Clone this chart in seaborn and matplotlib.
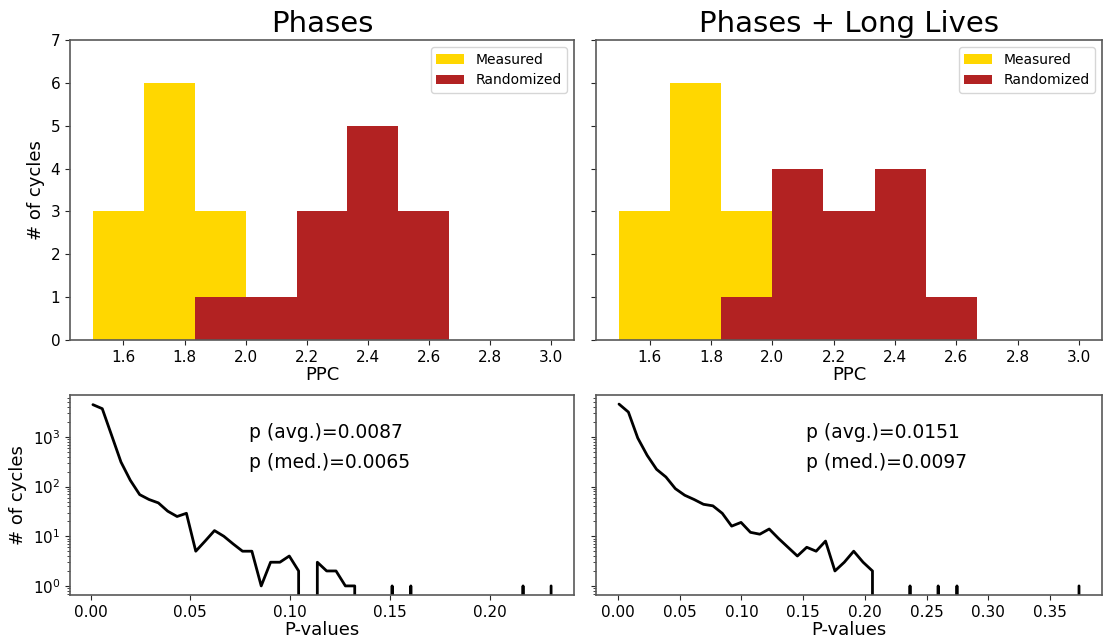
import numpy as np
import pandas as pd
import matplotlib
matplotlib.use("Agg")
import matplotlib.pyplot as plt
import seaborn as sns

# PPC histograms (counts per bin, bins from 1.5 to 3.0)
ppc_lo, ppc_hi, ppc_nbins = 1.5, 3.0, 9
measured_phases = [3, 6, 3, 0, 0, 0, 0, 0, 0]
randomized_phases = [0, 0, 1, 1, 3, 5, 3, 0, 0]
measured_long = [3, 6, 3, 0, 0, 0, 0, 0, 0]
randomized_long = [0, 0, 1, 4, 3, 4, 1, 0, 0]

# p-value histograms (50 bins, plotted at the left bin edges)
pv_range_phases = (0.0012, 0.2354)
pv_counts_phases = [4470, 3710, 1080, 313, 134, 69, 55, 47, 32, 25,
                    29, 5, 8, 13, 10, 7, 5, 5, 1, 3,
                    3, 4, 2, 0, 3, 2, 2, 1, 1, 0,
                    0, 0, 1, 0, 1, 0, 0, 0, 0, 0,
                    0, 0, 0, 0, 0, 0, 1, 0, 0, 1]
pv_range_long = (0.0008, 0.3810)
pv_counts_long = [4590, 3170, 950, 426, 223, 156, 91, 67, 55, 44,
                  41, 29, 16, 19, 12, 11, 14, 9, 6, 4,
                  6, 5, 8, 2, 3, 5, 3, 2, 0, 0,
                  0, 1, 0, 0, 1, 0, 1, 0, 0, 0,
                  0, 0, 0, 0, 0, 0, 0, 0, 0, 1]

p_text_phases = ["p (avg.)=0.0087", "p (med.)=0.0065"]
p_text_long = ["p (avg.)=0.0151", "p (med.)=0.0097"]
titles = ["Phases", "Phases + Long Lives"]

sns.set_style("ticks", {"axes.edgecolor": "0.35", "xtick.color": "0.15",
                        "ytick.color": "0.15", "text.color": "black",
                        "axes.labelcolor": "black"})
plt.rcParams["font.family"] = ["DejaVu Sans"]
plt.rcParams["axes.linewidth"] = 1.2
plt.rcParams["xtick.labelcolor"] = "black"
plt.rcParams["ytick.labelcolor"] = "black"

fig = plt.figure(figsize=(11.03, 6.42), dpi=100)
W, H = 1103., 642.


def box(x0, x1, y0, y1):
    return [x0 / W, 1 - y1 / H, (x1 - x0) / W, (y1 - y0) / H]


ax_tl = fig.add_axes(box(70, 574, 40, 340))
ax_tr = fig.add_axes(box(596, 1102, 40, 340), sharey=ax_tl)
ax_bl = fig.add_axes(box(70, 574, 395, 595))
ax_br = fig.add_axes(box(596, 1102, 395, 595), sharey=ax_bl)

edges = np.linspace(ppc_lo, ppc_hi, ppc_nbins + 1)
centers = (edges[:-1] + edges[1:]) / 2

for ax, meas, rand, title in [(ax_tl, measured_phases, randomized_phases, titles[0]),
                              (ax_tr, measured_long, randomized_long, titles[1])]:
    hist_df = pd.DataFrame({"ppc": centers, "meas": meas, "rand": rand})
    sns.histplot(data=hist_df, x="ppc", weights="meas", bins=edges.tolist(),
                 color="gold", alpha=1, linewidth=0, label="Measured", ax=ax)
    sns.histplot(data=hist_df, x="ppc", weights="rand", bins=edges.tolist(),
                 color="firebrick", alpha=1, linewidth=0, label="Randomized", ax=ax)
    ax.set_ylim(0, 7)
    ax.set_title(title, fontsize=21)
    ax.set_xlabel("PPC", fontsize=13, labelpad=1)
    ax.set_ylabel("")
    ax.legend(loc="upper right", fontsize=10)
    ax.tick_params(labelsize=11)

ax_tl.set_ylabel("# of cycles", fontsize=13)
ax_tr.tick_params(labelleft=False)

for ax, rng, counts, txt, tx in [(ax_bl, pv_range_phases, pv_counts_phases, p_text_phases, 0.356),
                                 (ax_br, pv_range_long, pv_counts_long, p_text_long, 0.416)]:
    x = np.linspace(rng[0], rng[1], len(counts) + 1)[:-1]
    df = pd.DataFrame({"p": x, "n": counts})
    sns.lineplot(data=df, x="p", y="n", color="black", linewidth=2,
                 errorbar=None, ax=ax)
    ax.set_yscale("log")
    ax.set_xlabel("P-values", fontsize=13, labelpad=1)
    ax.set_ylabel("")
    ax.text(tx, 0.81, txt[0], transform=ax.transAxes, fontsize=13.5, va="center")
    ax.text(tx, 0.66, txt[1], transform=ax.transAxes, fontsize=13.5, va="center")
    ax.tick_params(labelsize=11)

ax_bl.set_ylabel("# of cycles", fontsize=13)
ax_br.tick_params(labelleft=False)

fig.savefig("out.png", dpi=100)
